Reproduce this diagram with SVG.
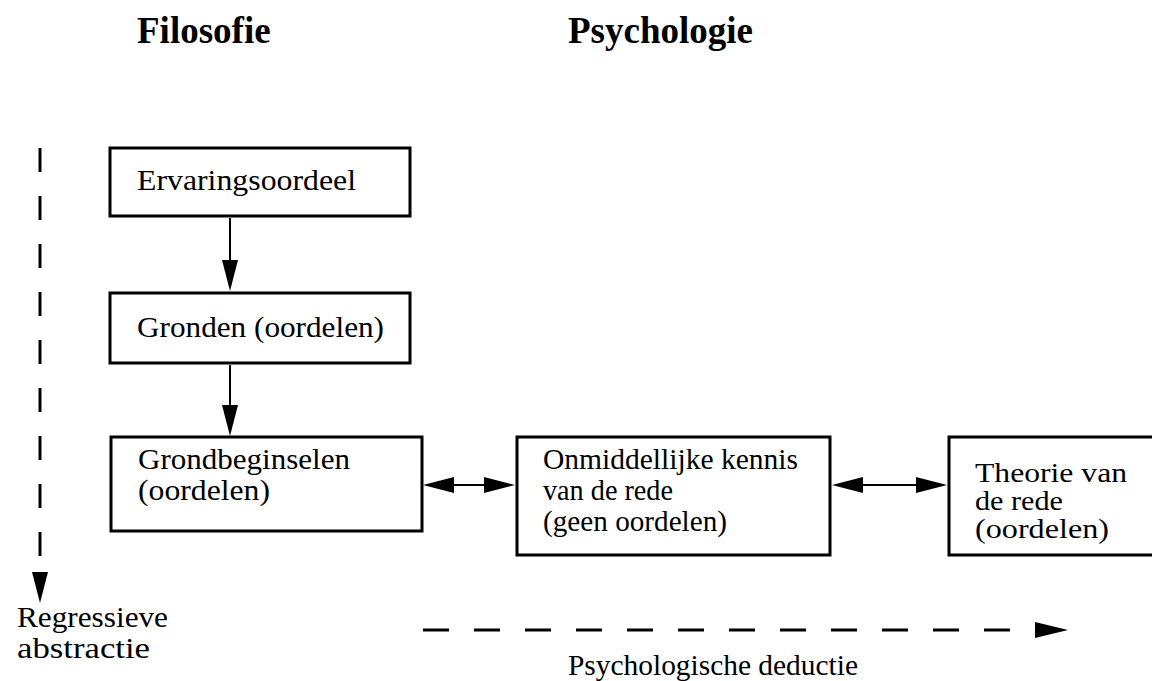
<svg xmlns="http://www.w3.org/2000/svg" width="1152" height="681" viewBox="0 0 1152 681">
<style>
.box{fill:#fff;stroke:#000;stroke-width:3}
.t{font-family:"Liberation Serif","Times New Roman",serif;font-size:30px;fill:#000}
.s{font-size:27px}
.h{font-family:"Liberation Serif","Times New Roman",serif;font-size:37px;font-weight:bold;fill:#000}
.ln{stroke:#000;stroke-width:2;fill:none}
.dash{stroke:#000;stroke-width:3;fill:none}
.ah{fill:#000}
</style>
<rect width="1152" height="681" fill="#fff"/>
<text class="h" x="137" y="43">Filosofie</text>
<text class="h" x="568" y="43">Psychologie</text>

<g id="n1"><rect class="box" x="110" y="148" width="300" height="68"/>
<text class="t" x="137" y="190" textLength="219" lengthAdjust="spacingAndGlyphs">Ervaringsoordeel</text></g>
<g id="n2"><rect class="box" x="110" y="293" width="300" height="70"/>
<text class="t" x="137" y="337" textLength="247" lengthAdjust="spacingAndGlyphs">Gronden (oordelen)</text></g>
<g id="n3"><rect class="box" x="111" y="437" width="311" height="94"/>
<text class="t" x="138" y="469" textLength="212" lengthAdjust="spacingAndGlyphs">Grondbeginselen</text>
<text class="t" x="138" y="500" textLength="132" lengthAdjust="spacingAndGlyphs">(oordelen)</text></g>
<g id="n4"><rect class="box" x="517" y="437" width="313" height="118"/>
<text class="t" x="543" y="469" textLength="255" lengthAdjust="spacingAndGlyphs">Onmiddellijke kennis</text>
<text class="t" x="543" y="500" textLength="130" lengthAdjust="spacingAndGlyphs">van de rede</text>
<text class="t" x="543" y="531" textLength="184" lengthAdjust="spacingAndGlyphs">(geen oordelen)</text></g>
<g id="n5"><rect class="box" x="949" y="437" width="210" height="118"/>
<text class="t s" x="975" y="482" textLength="152" lengthAdjust="spacingAndGlyphs">Theorie van</text>
<text class="t s" x="975" y="510" textLength="88" lengthAdjust="spacingAndGlyphs">de rede</text>
<text class="t s" x="975" y="538" textLength="134" lengthAdjust="spacingAndGlyphs">(oordelen)</text></g>

<g id="connectors">
<line class="ln" x1="230" y1="218" x2="230" y2="262"/>
<polygon class="ah" points="222,260 238,260 230,291"/>
<line class="ln" x1="230" y1="365" x2="230" y2="407"/>
<polygon class="ah" points="222,405 238,405 230,436"/>
<line class="ln" x1="450" y1="485" x2="485" y2="485"/>
<polygon class="ah" points="423,485 454,477 454,493"/>
<polygon class="ah" points="515,485 484,477 484,493"/>
<line class="ln" x1="860" y1="485" x2="920" y2="485"/>
<polygon class="ah" points="832,485 863,477 863,493"/>
<polygon class="ah" points="947,485 916,477 916,493"/>
<line class="dash" x1="40" y1="148" x2="40" y2="556" stroke-dasharray="24 24"/>
<polygon class="ah" points="32,572 48,572 40,603"/>
<line class="dash" x1="423" y1="630" x2="1010" y2="630" stroke-dasharray="26 25"/>
<polygon class="ah" points="1035,622 1068,630 1035,638"/>
</g>
<text class="t" x="17" y="627" textLength="151" lengthAdjust="spacingAndGlyphs">Regressieve</text>
<text class="t" x="17" y="658" textLength="133" lengthAdjust="spacingAndGlyphs">abstractie</text>
<text class="t" x="568" y="675" textLength="290" lengthAdjust="spacingAndGlyphs">Psychologische deductie</text>
</svg>
